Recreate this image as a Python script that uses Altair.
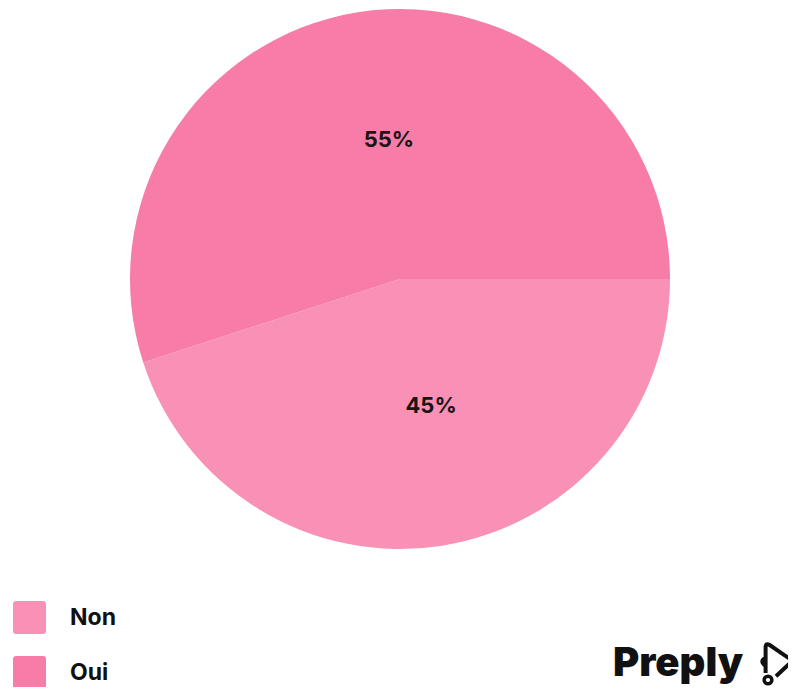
import altair as alt
import pandas as pd
import math

categories = ["Non", "Oui"]
values = [45, 55]
labels = ["45%", "55%"]
colors = ["#F990B5", "#F77CA8"]

df = pd.DataFrame({"cat": categories, "value": values, "label": labels, "ord": [0, 1]})

start = math.pi / 2
theta_scale = alt.Scale(range=[start, start + 2 * math.pi])
color_scale = alt.Scale(domain=categories, range=colors)

rounded = "M -0.8 -1 H 0.8 Q 1 -1 1 -0.8 V 0.8 Q 1 1 0.8 1 H -0.8 Q -1 1 -1 0.8 V -0.8 Q -1 -1 -0.8 -1 Z"

base = alt.Chart(df).encode(
    theta=alt.Theta("value:Q", stack=True, scale=theta_scale),
    order=alt.Order("ord:Q"),
)

pie = base.mark_arc(outerRadius=270, stroke=None).encode(
    x=alt.value(392),
    y=alt.value(271),
    color=alt.Color(
        "cat:N",
        scale=color_scale,
        legend=alt.Legend(
            title=None,
            orient="none",
            legendX=5,
            legendY=593,
            symbolType=rounded,
            symbolSize=1089,
            symbolStrokeWidth=0,
            labelFont="Inter",
            labelFontWeight="bold",
            labelFontSize=23,
            labelColor="#111111",
            labelOffset=24,
            rowPadding=22,
            padding=0,
        ),
    ),
)

text = base.mark_text(radius=135, font="Inter", fontWeight="bold", fontSize=22, color="#1a1414").encode(
    x=alt.value(402),
    y=alt.value(265),
    text="label:N",
)

logo_df = pd.DataFrame({"t": ["Preply"]})
logo = alt.Chart(logo_df).mark_text(
    font="Inter", fontWeight=900, fontSize=40, color="#111111", align="left", baseline="alphabetic"
).encode(text="t:N", x=alt.value(605), y=alt.value(668))

icon_path = ("M -0.52 0.55 L -0.52 -0.75 Q -0.52 -0.95 -0.35 -0.87 L 0.7 -0.15 Q 0.85 -0.05 0.7 0.05 "
             "L 0 0.71 M -0.52 -0.2 Q -0.85 -0.05 -0.52 0.2")
icon = alt.Chart(logo_df).mark_point(
    shape=icon_path, size=1600, filled=False, stroke="#111111", strokeWidth=4, opacity=1
).encode(x=alt.value(768), y=alt.value(654))
icon_dot = alt.Chart(logo_df).mark_point(
    shape="circle", size=60, filled=False, stroke="#111111", strokeWidth=3.5, opacity=1
).encode(x=alt.value(760), y=alt.value(672))

chart = alt.layer(pie, text, logo, icon, icon_dot).properties(
    width=780, height=679, padding=0, autosize="none"
).configure(background="white", view=alt.ViewConfig(stroke=None))

chart.save("out.html", embed_options={"renderer": "svg", "actions": False})
